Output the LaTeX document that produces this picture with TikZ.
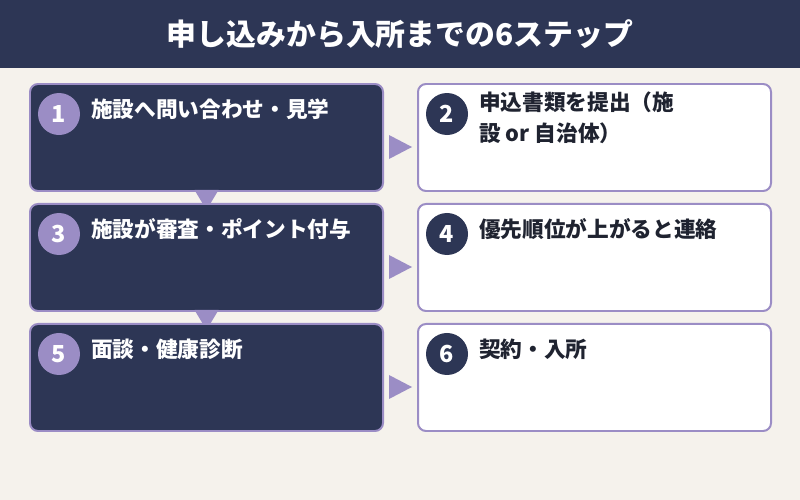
\documentclass[tikz,border=0pt]{standalone}
\usepackage{fontspec}
\setmainfont{Noto Sans CJK JP}
\usetikzlibrary{positioning,calc}

\definecolor{stpNavy}{HTML}{2D3655}
\definecolor{stpLav}{HTML}{9B8DC5}
\definecolor{stpBg}{HTML}{F5F2EC}
\definecolor{stpInk}{HTML}{1F2330}

\def\stpRowGap{0.33cm}
\def\stpColGap{0.99cm}

\begin{document}
\begin{tikzpicture}[x=0.03cm, y=-0.03cm,
    stpdark/.style={draw=stpLav, line width=1.7pt, fill=stpNavy,
        rounded corners=6.8pt, minimum width=10.59cm,
        minimum height=3.21cm, inner sep=0pt},
    stplight/.style={stpdark, fill=white},
    stpnum/.style={circle, minimum size=1.26cm, inner sep=0pt,
        text=white, font=\bfseries\fontsize{20}{20}\selectfont},
    stptext/.style={anchor=west, inner sep=0pt, align=left,
        font=\bfseries\fontsize{18.5}{26.5}\selectfont},
    stptip/.style={fill=stpLav}]
    %% background and title
    \useasboundingbox [fill=stpBg] (0,0) rectangle (800,500);
    \fill [stpNavy] (0,0) rectangle (800,68);
    \node [text=white, font=\bfseries\fontsize{25.5}{25.5}\selectfont]
        (title) at (400,34) {申し込みから入所までの6ステップ};
    %% row 1
    \node [stpdark, anchor=north west] (s1) at (29,83) {};
    \node [stplight, right=\stpColGap of s1] (s2) {};
    \fill [stptip] ($(s1.east)!0.5!(s2.west)+(0,9.5)$)
        ++(-11.5,-12) -- ++(0,24) -- ++(23,-12) -- cycle;
    \fill [stptip] (s1.south) ++(-12,-2) -- ++(24,0) -- ++(-12,20) -- cycle;
    %% row 2
    \node [stpdark, below=\stpRowGap of s1] (s3) {};
    \node [stplight, right=\stpColGap of s3] (s4) {};
    \fill [stptip] ($(s3.east)!0.5!(s4.west)+(0,9.5)$)
        ++(-11.5,-12) -- ++(0,24) -- ++(23,-12) -- cycle;
    \fill [stptip] (s3.south) ++(-12,-2) -- ++(24,0) -- ++(-12,20) -- cycle;
    %% row 3
    \node [stpdark, below=\stpRowGap of s3] (s5) {};
    \node [stplight, right=\stpColGap of s5] (s6) {};
    \fill [stptip] ($(s5.east)!0.5!(s6.west)+(0,9.5)$)
        ++(-11.5,-12) -- ++(0,24) -- ++(23,-12) -- cycle;
    %% numbers and texts
    \foreach \i/\lbl in {1/施設へ問い合わせ・見学, 3/施設が審査・ポイント付与, 5/面談・健康診断}
    {
        \node [stpnum, fill=stpLav] (n\i) at ($(s\i.north west)+(30,31)$) {\i};
        \node [stptext, text=white] (t\i) at ($(s\i.north west)+(62,26)$) {\lbl};
    }
    \foreach \i in {2,4,6}
    {
        \node [stpnum, fill=stpNavy] (n\i) at ($(s\i.north west)+(30,31)$) {\i};
    }
    \node [stptext, text=stpInk] (t2) at ($(s2.north west)+(62,34.5)$)
        {申込書類を提出（施\\設 or 自治体）};
    \node [stptext, text=stpInk] (t4) at ($(s4.north west)+(62,26)$)
        {優先順位が上がると連絡};
    \node [stptext, text=stpInk] (t6) at ($(s6.north west)+(62,26)$)
        {契約・入所};
\end{tikzpicture}
\end{document}
